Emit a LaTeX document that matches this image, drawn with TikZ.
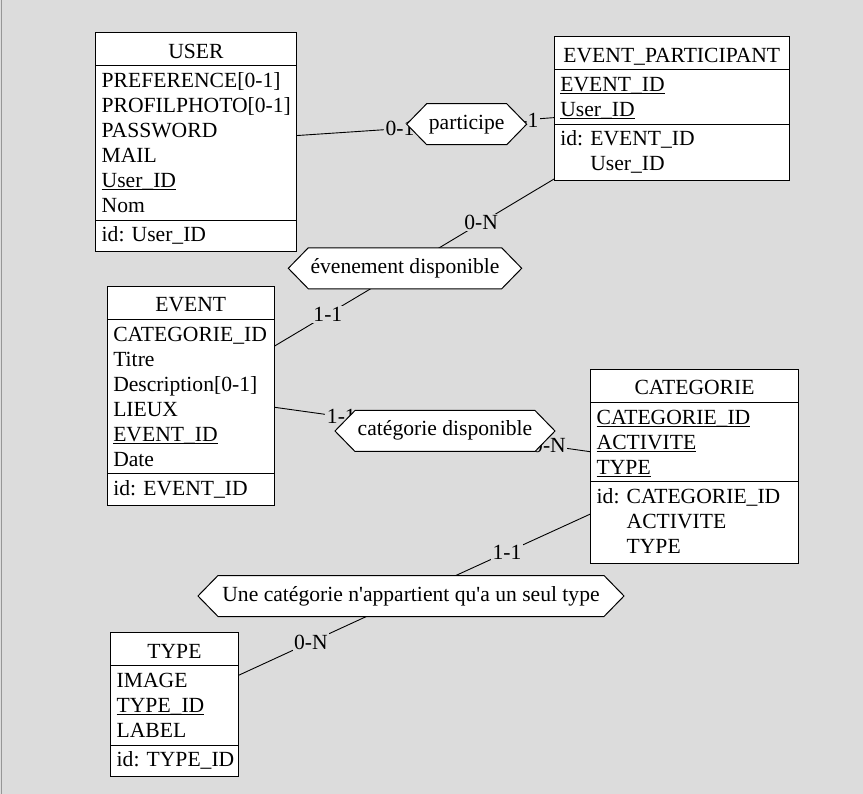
\documentclass[tikz,border=0pt]{standalone}
\usepackage{fontspec}
\setmainfont{Liberation Serif}[Ligatures=TeXOff]
\usetikzlibrary{calc}
\pgfdeclarelayer{canvas}
\pgfdeclarelayer{background}
\pgfsetlayers{canvas,background,main}
\definecolor{bgcol}{RGB}{220,220,220}
\definecolor{edgecol}{RGB}{150,150,150}
\newsavebox\ulbox
\newcommand\ulid[1]{\sbox\ulbox{#1}\rlap{\rule[-2.5pt]{\wd\ulbox}{1pt}}\usebox\ulbox}
\newcommand\erfont{\fontsize{21.6}{25}\selectfont}
\tikzset{
  entbox/.style={draw=black, fill=white, line width=1pt, inner sep=0pt, outer sep=0pt},
  entline/.style={draw=black, line width=1pt},
  enttext/.style={inner sep=0pt, outer sep=0pt, font=\erfont, text=black},
  relshape/.style={draw=black, fill=white, line width=1pt, line join=miter},
  reltext/.style={inner sep=0pt, outer sep=0pt, font=\erfont, text=black, text height=13.5pt, text depth=3.5pt},
  conn/.style={draw=black, line width=0.9pt},
  card/.style={fill=bgcol, inner sep=1.5pt, font=\erfont, text=black}
}
% #1 name #2 x #3 y #4 width #5 title #6 n attrs #7 attrs #8 m ids #9 ids
\newcommand\entity[9]{%
  \pgfmathsetmacro\enth{94+25*(#6-1)+25*(#8-1)}%
  \node[entbox, minimum width=#4pt, minimum height=\enth pt, anchor=north west] (#1) at (#2,#3) {};
  \draw[entline] ([yshift=-33pt]#1.north west) -- ([yshift=-33pt]#1.north east);
  \pgfmathsetmacro\secy{62.5+25*(#6-1)}%
  \draw[entline] ([yshift=-\secy pt]#1.north west) -- ([yshift=-\secy pt]#1.north east);
  \node[enttext, anchor=base] (#1-title) at ([yshift=-25.5pt]#1.north) {#5};
  \foreach \a [count=\i from 0] in {#7} {
    \pgfmathsetmacro\ay{55+25*\i}
    \node[enttext, anchor=base west] (#1-a\i) at ([xshift=6pt,yshift=-\ay pt]#1.north west) {\a};
  }
  \foreach \a [count=\i from 0] in {#9} {
    \pgfmathsetmacro\ay{\secy+21.5+25*\i}
    \node[enttext, anchor=base west] (#1-id\i) at ([xshift=6pt,yshift=-\ay pt]#1.north west) {\ifnum\i=0 id: \else\phantom{id: }\fi\a};
  }
}
% #1 name #2 x #3 y #4 half width #5 text
\newcommand\relation[5]{%
  \draw[relshape] (#2-#4,#3) -- (#2-#4+20,#3-20.5) -- (#2+#4-20,#3-20.5) -- (#2+#4,#3)
     -- (#2+#4-20,#3+20.5) -- (#2-#4+20,#3+20.5) -- cycle;
  \node[reltext] (#1) at (#2,#3) {#5};
}
\begin{document}
\begin{tikzpicture}[x=1pt, y=-1pt]
\begin{pgfonlayer}{canvas}
  \fill[bgcol] (0,0) rectangle (863,793);
  \draw[edgecol, line width=1pt] (1.5,0) -- (1.5,793);
\end{pgfonlayer}
\useasboundingbox (0,0) rectangle (863,793);

\entity{user}{95.7}{32.3}{200.6}{USER}{6}{PREFERENCE[0-1],PROFILPHOTO[0-1],PASSWORD,MAIL,\ulid{User\_ID},Nom}{1}{User\_ID}
\entity{ep}{554.3}{36.3}{235}{EVENT\_PARTICIPANT}{2}{\ulid{EVENT\_ID},\ulid{User\_ID}}{2}{EVENT\_ID,User\_ID}
\entity{event}{107.3}{285.7}{167}{EVENT}{6}{CATEGORIE\_ID,Titre,Description[0-1],LIEUX,\ulid{EVENT\_ID},Date}{1}{EVENT\_ID}
\entity{categorie}{590.7}{369}{207.6}{CATEGORIE}{3}{\ulid{CATEGORIE\_ID},\ulid{ACTIVITE},\ulid{TYPE}}{3}{CATEGORIE\_ID,ACTIVITE,TYPE}
\entity{type}{110.7}{632.3}{127.5}{TYPE}{3}{IMAGE,\ulid{TYPE\_ID},LABEL}{1}{TYPE\_ID}

\relation{part}{466.7}{123.7}{60}{participe}
\relation{evd}{405}{267.8}{116.7}{évenement disponible}
\relation{catd}{445}{430.5}{110}{catégorie disponible}
\relation{unt}{411}{595.5}{213}{Une catégorie n'appartient qu'a un seul type}

\begin{pgfonlayer}{background}
  \draw[conn] (user) -- (part.center) node[card, pos=0.609] {0-1};
  \draw[conn] (ep) -- (part.center) node[card, pos=0.346] {1-1};
  \draw[conn] (ep) -- (evd.center) node[card, pos=0.49] {0-N};
  \draw[conn] (event) -- (evd.center) node[card, pos=0.41] {1-1};
  \draw[conn] (event) -- (catd.center) node[card, pos=0.393] {1-1};
  \draw[conn] (categorie) -- (catd.center) node[card, pos=0.286] {0-N};
  \draw[conn] (categorie) -- (unt.center) node[card, pos=0.466] {1-1};
  \draw[conn] (type) -- (unt.center) node[card, pos=0.421] {0-N};
\end{pgfonlayer}
\end{tikzpicture}
\end{document}
